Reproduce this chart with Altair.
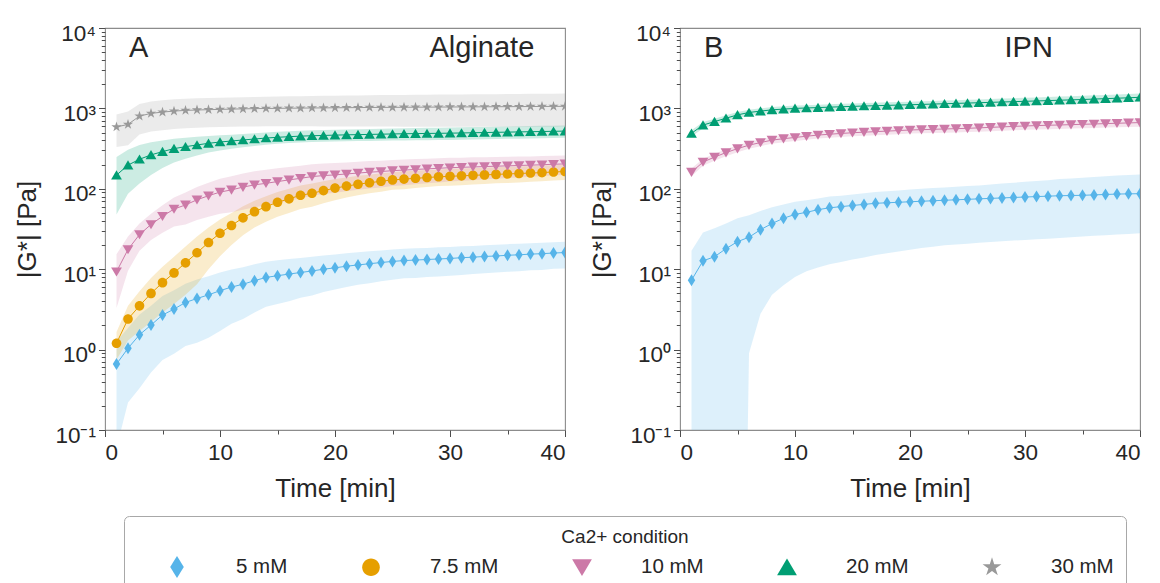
import altair as alt
import pandas as pd

# ---------------- data ----------------
TIME = list(range(1, 41))
CONDS = ["5 mM", "7.5 mM", "10 mM", "20 mM", "30 mM"]
COLORS = ["#56B4E9", "#E69F00", "#CC79A7", "#009E73", "#999999"]
DIAMOND = "M0,-1L0.62,0L0,1L-0.62,0Z"
CIRCLE = "M0.8,0A0.8,0.8,0,1,1,-0.8,0A0.8,0.8,0,1,1,0.8,0Z"
TRI_DOWN = "M-0.9,-0.72L0.9,-0.72L0,0.8Z"
TRI_UP = "M0,-0.8L0.9,0.72L-0.9,0.72Z"
STAR = ("M0,-0.9L0.2011,-0.2767L0.856,-0.2781L0.3253,0.1057L0.529,0.7281L0,0.342"
        "L-0.529,0.7281L-0.3253,0.1057L-0.856,-0.2781L-0.2011,-0.2767Z")
SHAPES = [DIAMOND, CIRCLE, TRI_DOWN, TRI_UP, STAR]

PANEL_LETTERS = ["A", "B"]
PANEL_NAMES = ["Alginate", "IPN"]

# Alginate panel (mean and standard deviation of |G*| in Pa)
ALG_5_MEAN = [0.66, 1.04, 1.53, 2.02, 2.69, 3.19, 3.86, 4.32, 4.8, 5.4, 6.0, 6.5, 7.2, 7.9, 8.3, 8.7, 9.1, 9.5, 10.0, 10.4,
              10.9, 11.3, 11.7, 12.1, 12.5, 12.8, 13.0, 13.2, 13.4, 13.6, 13.9, 14.1, 14.4, 14.6, 14.9, 15.1, 15.4, 15.6, 15.9, 16.1]
ALG_5_SD = [0.6, 0.82, 1.2, 1.5, 1.95, 2.3, 2.75, 3.1, 3.4, 3.7, 3.9, 4.1, 4.3, 4.5, 4.6, 4.7, 4.7, 4.8, 4.8, 4.8,
            4.9, 4.9, 5.0, 5.0, 5.1, 5.1, 5.2, 5.2, 5.3, 5.3, 5.4, 5.4, 5.5, 5.5, 5.6, 5.7, 5.7, 5.8, 5.8, 5.9]
ALG_75_MEAN = [1.2, 2.4, 3.5, 5.0, 6.8, 9.0, 12, 16, 21.5, 28, 35, 43.5, 52, 60, 68, 75, 83, 88, 95, 102,
               108, 114, 119, 124, 129, 132, 135, 138, 141, 143, 145, 147, 149, 151, 153, 155, 157, 159, 162, 164]
ALG_75_SD = [0.45, 1.1, 1.8, 2.8, 3.9, 5.3, 7.2, 9.5, 11.5, 13.5, 15, 17, 19, 21, 23, 25, 27, 28, 29, 30,
             30, 31, 31, 32, 32, 33, 33, 33, 33, 34, 34, 34, 34, 34, 35, 35, 35, 35, 35, 35]
ALG_10_MEAN = [9.3, 17.6, 27, 36, 45.5, 56, 63, 73, 82, 91, 97, 105, 112, 117, 123, 129, 135, 142, 146, 149,
               153, 157, 161, 164, 168, 171, 174, 177, 180, 183, 185, 187, 189, 191, 193, 195, 197, 199, 202, 204]
ALG_10_SD = [6, 8, 10, 13, 17, 22, 27, 32, 37, 42, 46, 50, 53, 55, 57, 58, 59, 60, 60, 60,
             60, 60, 60, 60, 60, 60, 60, 60, 60, 60, 59, 59, 58, 58, 57, 57, 56, 56, 55, 55]
ALG_20_MEAN = [148, 197, 233, 264, 290, 316, 334, 351, 368, 382, 393, 405, 416, 428, 437, 445, 452, 457, 461, 465,
               469, 472, 475, 478, 481, 484, 486, 488, 490, 492, 495, 498, 501, 504, 507, 510, 513, 516, 519, 522]
ALG_20_SD = [100, 110, 117, 115, 108, 104, 98, 92, 86, 82, 78, 76, 75, 74, 74, 74, 75, 76, 77, 78,
             79, 80, 81, 82, 83, 84, 85, 86, 86, 87, 87, 88, 88, 89, 89, 90, 90, 91, 91, 92]
ALG_30_MEAN = [587, 633, 802, 867, 900, 926, 945, 955, 965, 972, 980, 987, 993, 998, 1002, 1006, 1009, 1012, 1015, 1018,
               1021, 1024, 1027, 1029, 1031, 1033, 1035, 1037, 1039, 1041, 1043, 1045, 1047, 1049, 1051, 1053, 1055, 1057, 1059, 1062]
ALG_30_SD = [255, 285, 330, 350, 365, 372, 377, 380, 382, 384, 388, 392, 396, 400, 403, 406, 410, 414, 418, 422,
             425, 428, 431, 434, 437, 440, 442, 444, 446, 448, 450, 452, 454, 456, 458, 460, 462, 464, 466, 468]

# IPN panel
IPN_5_MEAN = [7.3, 12.7, 14.3, 18, 22, 25, 31, 37, 43, 48, 51, 55, 58, 60, 62, 64, 66, 67, 68, 69,
              70, 71, 72, 73, 74, 75, 76, 77, 78, 79, 80, 81, 82, 82.5, 83, 84, 85, 86, 86.5, 87]
IPN_5_SD_UP = [9.7, 16, 18, 19, 21, 22, 22, 22, 21, 21, 21, 21, 22, 22, 23, 24, 25, 26, 27, 29,
               30, 31, 32, 33, 34, 35, 37, 39, 41, 43, 45, 47, 50, 52, 54, 56, 58, 60, 62, 64]
IPN_5_SD_DOWN = [9, 15, 17, 21, 24, 24.1, 28.2, 32.2, 36.7, 40, 41.6, 44.5, 46.5, 47.7, 48.8, 50, 51, 51.2, 51.4, 51.5,
                 51.7, 52, 52.2, 52.7, 53.2, 53.7, 54.2, 54.7, 55.3, 55.9, 56.4, 57, 57.5, 57.5, 57.5, 58, 58.5, 59, 59, 59]
IPN_10_MEAN = [161, 215, 248, 282, 316, 349, 376, 403, 420, 435, 451, 466, 477, 488, 498, 506, 514, 522, 530, 539,
               544, 549, 555, 560, 565, 573, 581, 589, 597, 605, 611, 617, 622, 628, 634, 640, 647, 653, 660, 666]
IPN_10_SD = [18, 22, 25, 28, 31, 34, 37, 39, 41, 43, 44, 45, 46, 47, 48, 49, 50, 51, 52, 53,
             54, 55, 56, 57, 58, 59, 60, 61, 62, 63, 64, 65, 66, 67, 68, 69, 70, 71, 72, 73]
IPN_20_MEAN = [490, 620, 685, 755, 830, 890, 925, 960, 980, 1000, 1012, 1024, 1036, 1048, 1060, 1070, 1080, 1090, 1100, 1110,
               1121, 1132, 1143, 1154, 1165, 1177, 1189, 1201, 1213, 1225, 1238, 1251, 1264, 1277, 1290, 1306, 1322, 1338, 1355, 1375]
IPN_20_SD = [45, 55, 60, 65, 70, 75, 78, 80, 82, 84, 86, 88, 90, 92, 94, 96, 98, 100, 102, 104,
             106, 108, 110, 112, 114, 117, 120, 123, 126, 129, 132, 135, 138, 141, 144, 147, 150, 153, 156, 160]

Y_MAJOR = [0.1, 1, 10, 100, 1000, 10000]
Y_MINOR = [k * 10.0 ** e for e in range(-1, 4) for k in range(2, 10)]
X_MAJOR = [0, 10, 20, 30, 40]
X_MINOR = [5, 15, 25, 35]

FONT = "Liberation Sans"
TXT = "#262626"


def build_frame(series):
    rows = []
    for cond, mean, sd_up, sd_dn in series:
        for t, m, u, d in zip(TIME, mean, sd_up, sd_dn):
            rows.append({"t": t, "cond": cond, "g": m,
                         "lo": max(m - d, 1e-9), "hi": m + u})
    return pd.DataFrame(rows)


LEFT = build_frame([
    ("5 mM", ALG_5_MEAN, ALG_5_SD, ALG_5_SD),
    ("7.5 mM", ALG_75_MEAN, ALG_75_SD, ALG_75_SD),
    ("10 mM", ALG_10_MEAN, ALG_10_SD, ALG_10_SD),
    ("20 mM", ALG_20_MEAN, ALG_20_SD, ALG_20_SD),
    ("30 mM", ALG_30_MEAN, ALG_30_SD, ALG_30_SD),
])
RIGHT = build_frame([
    ("5 mM", IPN_5_MEAN, IPN_5_SD_UP, IPN_5_SD_DOWN),
    ("10 mM", IPN_10_MEAN, IPN_10_SD, IPN_10_SD),
    ("20 mM", IPN_20_MEAN, IPN_20_SD, IPN_20_SD),
])

W, H = 460, 402
xscale = alt.Scale(domain=[0, 40], nice=False, zero=False)
yscale = alt.Scale(type="log", domain=[0.1, 10000], nice=False)
cscale = alt.Scale(domain=CONDS, range=COLORS)
sscale = alt.Scale(domain=CONDS, range=SHAPES)

LABEL_EXPR = ("datum.value < 0.5 ? '10\\u207B\\u00B9' : datum.value < 5 ? '10\\u2070' : "
              "datum.value < 50 ? '10\\u00B9' : datum.value < 500 ? '10\\u00B2' : "
              "datum.value < 5000 ? '10\\u00B3' : '10\\u2074'")

legend = alt.Legend(
    title="Ca2+ condition", orient="none", legendX=19, legendY=488,
    direction="horizontal", columns=5, titleAnchor="middle",
    titleFontSize=19, titleFontWeight="normal", titleFont=FONT, titleColor=TXT,
    labelFontSize=20.5, labelFont=FONT, labelColor=TXT,
    symbolSize=484, symbolStrokeWidth=0, symbolOpacity=1, symbolOffset=30,
    labelOffset=48, columnPadding=42, padding=12, titlePadding=9,
    strokeColor="#a8a8a8", cornerRadius=5, fillColor="white",
)


def panel(df, letter, name):
    base = alt.Chart(df)
    x_major = alt.X("t:Q", scale=xscale, axis=alt.Axis(
        values=X_MAJOR, orient="bottom", title="Time [min]", tickSize=6.5,
        labelPadding=5, titlePadding=11, format="d"))
    y_major = alt.Y("g:Q", scale=yscale, axis=alt.Axis(
        values=Y_MAJOR, orient="left", title="|G*| [Pa]", tickSize=6.5,
        labelExpr=LABEL_EXPR, labelPadding=3, labelOffset=5, titlePadding=14))
    color = alt.Color("cond:N", scale=cscale, legend=legend)

    band = base.mark_area(fillOpacity=0.2, clip=True).encode(
        x=alt.X("t:Q", scale=xscale, axis=None),
        y=alt.Y("lo:Q", scale=yscale, axis=None),
        y2="hi:Q",
        color=color,
    )
    line = base.mark_line(strokeWidth=1, clip=True).encode(
        x=x_major, y=y_major, color=color,
    )
    pts = base.mark_point(filled=True, opacity=1, size=144, clip=True).encode(
        x=alt.X("t:Q", scale=xscale, axis=None),
        y=alt.Y("g:Q", scale=yscale, axis=None),
        color=color,
        shape=alt.Shape("cond:N", scale=sscale, legend=legend),
    )
    minor = base.mark_line(opacity=0).encode(
        x=alt.X("t:Q", scale=xscale, axis=alt.Axis(
            values=X_MINOR, orient="bottom", labels=False, title=None, tickSize=4)),
        y=alt.Y("g:Q", scale=yscale, axis=alt.Axis(
            values=Y_MINOR, orient="left", labels=False, title=None, tickSize=3.7)),
        detail="cond:N",
    )
    tdf = pd.DataFrame({"letter": [letter], "name": [name]})
    t1 = alt.Chart(tdf).mark_text(align="left", baseline="alphabetic", fontSize=29,
                                  font=FONT, color=TXT).encode(
        text="letter:N", x=alt.value(24), y=alt.value(28.5))
    t2 = alt.Chart(tdf).mark_text(align="left", baseline="alphabetic", fontSize=29,
                                  font=FONT, color=TXT).encode(
        text="name:N", x=alt.value(324.5), y=alt.value(28.5))
    return alt.layer(band, line, pts, minor, t1, t2).resolve_axis(
        x="independent", y="independent").properties(width=W, height=H)


left = panel(LEFT, PANEL_LETTERS[0], PANEL_NAMES[0])
right = panel(RIGHT, PANEL_LETTERS[1], PANEL_NAMES[1])

chart = alt.hconcat(left, right, spacing=115, bounds="flush").resolve_scale(
    color="shared", shape="shared"
).properties(
    padding={"left": 6, "top": 13, "right": 5, "bottom": 0},
    background="white",
).configure_view(
    stroke="#8c8c8c", strokeWidth=1.1
).configure_axis(
    domain=False, grid=False, tickColor="#4d4d4d", tickWidth=1,
    labelColor=TXT, titleColor=TXT, labelFont=FONT, titleFont=FONT,
    labelFontSize=22.5, titleFontSize=26, titleFontWeight="normal",
)

chart.save("out.html", embed_options={"renderer": "svg", "actions": False})
